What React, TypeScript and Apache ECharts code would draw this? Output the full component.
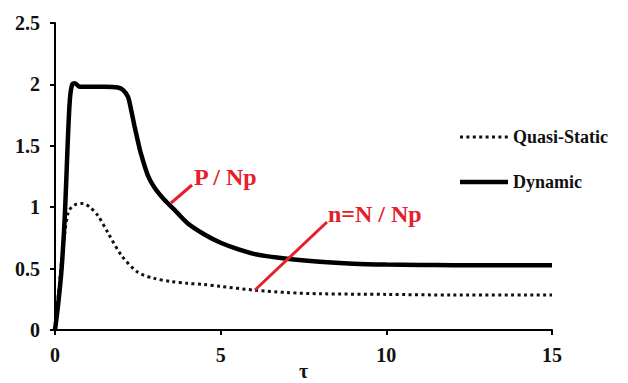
import React, { useEffect, useRef } from "react";
import * as echarts from "echarts";

const xTicks = [0, 5, 10, 15];
const yTicks = [0, 0.5, 1, 1.5, 2, 2.5];

const dynamicX = [0, 0.1, 0.2, 0.3, 0.38, 0.45, 0.52, 0.6, 0.75, 1.0, 1.5, 1.9, 2.05, 2.2, 2.3, 2.4, 2.5, 2.6, 2.8, 3.0, 3.3, 3.6, 4.0, 4.5, 5.0, 5.5, 6.0, 7.0, 8.0, 9.0, 10, 11, 12, 13, 14, 15];
const dynamicY = [0, 0.22, 0.5, 0.95, 1.5, 1.88, 2.0, 2.01, 1.98, 1.98, 1.98, 1.975, 1.955, 1.9, 1.79, 1.66, 1.54, 1.43, 1.26, 1.16, 1.06, 0.98, 0.87, 0.78, 0.71, 0.66, 0.62, 0.58, 0.555, 0.54, 0.533, 0.53, 0.528, 0.527, 0.527, 0.527];

const quasiX = [0, 0.1, 0.2, 0.3, 0.4, 0.5, 0.65, 0.85, 1.05, 1.3, 1.6, 2.0, 2.5, 3.0, 3.5, 4.0, 4.5, 5.0, 6.0, 7.0, 8.0, 10, 12, 15];
const quasiY = [0, 0.28, 0.56, 0.8, 0.96, 1.0, 1.025, 1.03, 1.0, 0.93, 0.79, 0.61, 0.47, 0.42, 0.395, 0.38, 0.37, 0.355, 0.325, 0.305, 0.295, 0.29, 0.285, 0.285];

const seriesNames = ["Quasi-Static", "Dynamic"];
const xAxisName = "τ";
const annotations = ["P / Np", "n=N / Np"];

const FONT = "Liberation Serif, Times New Roman, serif";
const RED = "#e5202a";
const DOT_DASH = [3, 3.4];

export default function App() {
  const ref = useRef<HTMLDivElement>(null);
  useEffect(() => {
    if (!ref.current) return;
    const chart = echarts.init(ref.current, undefined, { renderer: "svg" });
    const axisText = { fontFamily: FONT, fontWeight: "bold", fontSize: 20, color: "#111" };
    chart.setOption({
      animation: false,
      backgroundColor: "#fff",
      grid: { left: 55, right: 76, top: 23, bottom: 53, outerBoundsMode: "none", containLabel: false },
      xAxis: {
        type: "value",
        min: xTicks[0],
        max: xTicks[xTicks.length - 1],
        interval: xTicks[1] - xTicks[0],
        name: xAxisName,
        nameLocation: "middle",
        nameGap: 31,
        nameMoveOverlap: false,
        nameTextStyle: { ...axisText, verticalAlign: "top" },
        axisLine: { show: true, lineStyle: { color: "#000", width: 2 } },
        axisTick: { show: true, length: 5, lineStyle: { color: "#000", width: 2 } },
        axisLabel: { ...axisText, margin: 15 },
        splitLine: { show: false },
      },
      yAxis: {
        type: "value",
        min: yTicks[0],
        max: yTicks[yTicks.length - 1],
        interval: yTicks[1] - yTicks[0],
        axisLine: { show: true, lineStyle: { color: "#000", width: 2 } },
        axisTick: { show: true, length: 5, lineStyle: { color: "#000", width: 2 } },
        axisLabel: { ...axisText, margin: 15 },
        splitLine: { show: false },
      },
      series: [
        {
          name: seriesNames[0],
          type: "line",
          data: quasiX.map((x, i) => [x, quasiY[i]]),
          symbol: "none",
          smooth: 0.3,
          lineStyle: { color: "#111", width: 3, type: DOT_DASH },
          z: 2,
        },
        {
          name: seriesNames[1],
          type: "line",
          data: dynamicX.map((x, i) => [x, dynamicY[i]]),
          symbol: "none",
          smooth: 0.3,
          lineStyle: { color: "#000", width: 4.5 },
          z: 3,
        },
      ],
      graphic: [
        // legend
        { type: "line", shape: { x1: 460, y1: 137, x2: 508, y2: 137 }, style: { stroke: "#111", lineWidth: 3, lineDash: DOT_DASH }, z: 10 },
        { type: "text", x: 513, y: 137, style: { text: seriesNames[0], fill: "#111", font: `bold 18px ${FONT}`, verticalAlign: "middle" }, z: 10 },
        { type: "line", shape: { x1: 460, y1: 182, x2: 508, y2: 182 }, style: { stroke: "#000", lineWidth: 4.5 }, z: 10 },
        { type: "text", x: 513, y: 182, style: { text: seriesNames[1], fill: "#111", font: `bold 18px ${FONT}`, verticalAlign: "middle" }, z: 10 },
        // annotations
        { type: "line", shape: { x1: 192, y1: 185, x2: 171, y2: 203 }, style: { stroke: RED, lineWidth: 3 }, z: 10 },
        { type: "line", shape: { x1: 327, y1: 222, x2: 255, y2: 290 }, style: { stroke: RED, lineWidth: 3 }, z: 10 },
        { type: "text", x: 194, y: 177, style: { text: annotations[0], fill: RED, font: `bold 24px ${FONT}`, verticalAlign: "middle" }, z: 10 },
        { type: "text", x: 328, y: 214, style: { text: annotations[1], fill: RED, font: `bold 24px ${FONT}`, verticalAlign: "middle" }, z: 10 },
      ],
    });
    return () => chart.dispose();
  }, []);
  return <div ref={ref} style={{ position: "fixed", left: 0, top: 0, width: 628, height: 383 }} />;
}
